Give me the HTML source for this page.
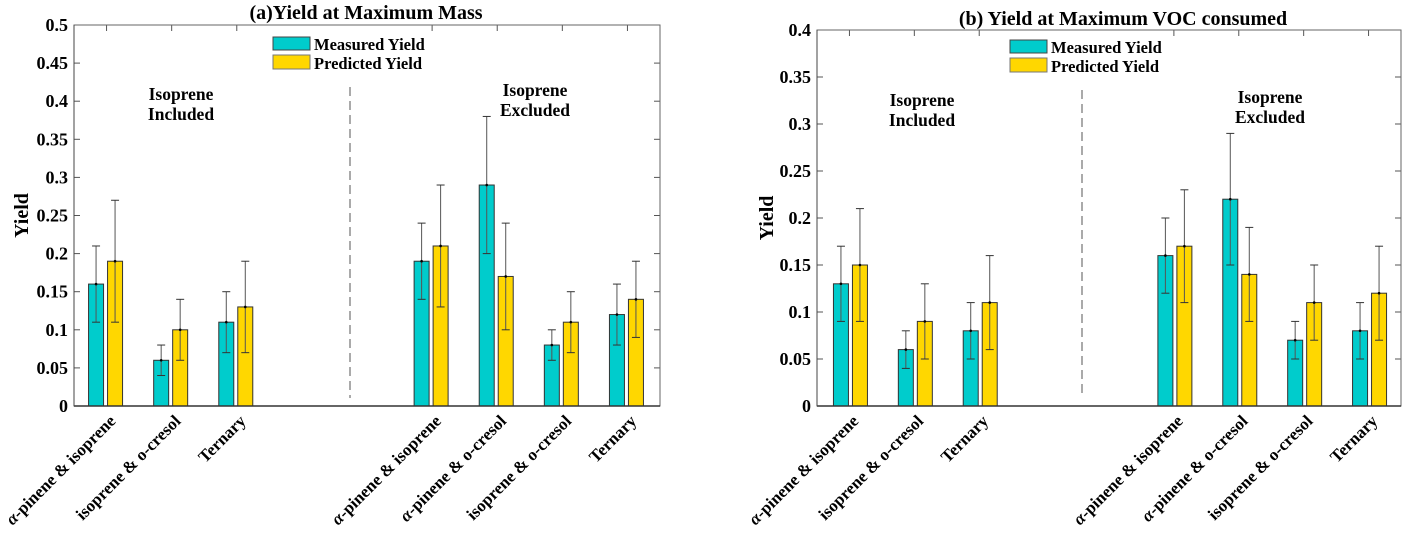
<!DOCTYPE html>
<html><head><meta charset="utf-8"><style>
html,body{margin:0;padding:0;background:#fff;}
svg{display:block;font-family:"Liberation Serif",serif;font-weight:bold;}
</style></head><body>
<svg id="chart" width="1408" height="536" viewBox="0 0 1408 536" xmlns="http://www.w3.org/2000/svg"></svg>
<script>
const categories = ["α-pinene & isoprene","isoprene & o-cresol","Ternary","α-pinene & isoprene","α-pinene & o-cresol","isoprene & o-cresol","Ternary"];
const slots = [1,2,3,6,7,8,9];
// Panel A
const measuredA = [0.16,0.06,0.11,0.19,0.29,0.08,0.12];
const measuredALow = [0.11,0.04,0.07,0.14,0.20,0.06,0.08];
const measuredAHigh = [0.21,0.08,0.15,0.24,0.38,0.10,0.16];
const predictedA = [0.19,0.10,0.13,0.21,0.17,0.11,0.14];
const predictedALow = [0.11,0.06,0.07,0.13,0.10,0.07,0.09];
const predictedAHigh = [0.27,0.14,0.19,0.29,0.24,0.15,0.19];
const ticksA = ["0","0.05","0.1","0.15","0.2","0.25","0.3","0.35","0.4","0.45","0.5"];
// Panel B
const measuredB = [0.13,0.06,0.08,0.16,0.22,0.07,0.08];
const measuredBLow = [0.09,0.04,0.05,0.12,0.15,0.05,0.05];
const measuredBHigh = [0.17,0.08,0.11,0.20,0.29,0.09,0.11];
const predictedB = [0.15,0.09,0.11,0.17,0.14,0.11,0.12];
const predictedBLow = [0.09,0.05,0.06,0.11,0.09,0.07,0.07];
const predictedBHigh = [0.21,0.13,0.16,0.23,0.19,0.15,0.17];
const ticksB = ["0","0.05","0.1","0.15","0.2","0.25","0.3","0.35","0.4"];

const svg = document.getElementById('chart');
const NS = 'http://www.w3.org/2000/svg';
function mk(tag, attrs, parent){const e=document.createElementNS(NS,tag);for(const k in attrs)e.setAttribute(k,attrs[k]);(parent||svg).appendChild(e);return e;}

function panel(cfg){
  const g = mk('g',{});
  
  
  const xS = v => cfg.x0 + (v-0.5)/9*(cfg.x1-cfg.x0);
  const yS = v => cfg.y1 - v/cfg.ymax*(cfg.y1-cfg.y0);
  const t = mk('text',{x:cfg.titleX,y:cfg.titleY,'text-anchor':'middle','font-size':20},g);
  t.textContent = cfg.title;
  
  
  cfg.ticks.forEach(lbl=>{
    const v=parseFloat(lbl), y=yS(v);
    mk('line',{x1:cfg.x0,x2:cfg.x0+6,y1:y,y2:y,stroke:'#555','stroke-width':1},g);
    mk('line',{x1:cfg.x1,x2:cfg.x1-6,y1:y,y2:y,stroke:'#555','stroke-width':1},g);
    const tx=mk('text',{x:cfg.x0-6,y:y+6,'text-anchor':'end','font-size':18},g);
    tx.textContent=lbl;
    
    
  });
  slots.forEach(s=>{
    mk('line',{x1:xS(s),x2:xS(s),y1:cfg.y0,y2:cfg.y0+6,stroke:'#555','stroke-width':1},g);
  });
  const yl=mk('text',{x:0,y:0,'text-anchor':'middle','font-size':20,transform:`translate(${cfg.yLabelX},${(cfg.y0+cfg.y1)/2}) rotate(-90)`},g);
  yl.textContent='Yield';
  
  
  function series(vals, lo, hi, off, color, nm){
    vals.forEach((v,i)=>{
      const cx=xS(slots[i]);
      const r=mk('rect',{x:cx+off,y:yS(v),width:15,height:yS(0)-yS(v),fill:color,stroke:'#333','stroke-width':1},g);
      
      
      const ex=cx+off+7.5;
      const e=mk('line',{x1:ex,x2:ex,y1:yS(lo[i]),y2:yS(hi[i]),stroke:'#555','stroke-width':1},g);
      
      
      mk('line',{x1:ex-4,x2:ex+4,y1:yS(lo[i]),y2:yS(lo[i]),stroke:'#333','stroke-width':1},g);
      mk('line',{x1:ex-4,x2:ex+4,y1:yS(hi[i]),y2:yS(hi[i]),stroke:'#333','stroke-width':1},g);
      mk('circle',{cx:ex,cy:yS(v),r:1.3,fill:'#000'},g);
    });
  }
  series(cfg.m,cfg.mlo,cfg.mhi,cfg.offM,'#00CCCC','measured');
  series(cfg.p,cfg.plo,cfg.phi,cfg.offP,'#FFD700','predicted');
  mk('rect',{x:cfg.x0,y:cfg.y0,width:cfg.x1-cfg.x0,height:cfg.y1-cfg.y0,fill:'none',stroke:'#666','stroke-width':1},g);
  mk('line',{x1:cfg.x0,x2:cfg.x1,y1:cfg.y1,y2:cfg.y1,stroke:'#333','stroke-width':1.5},g);
  mk('line',{x1:cfg.x0,x2:cfg.x0,y1:cfg.y0,y2:cfg.y1,stroke:'#444','stroke-width':1},g);
  const d=mk('line',{x1:cfg.dashX,x2:cfg.dashX,y1:cfg.dashY0,y2:cfg.dashY1,stroke:'#555','stroke-width':1,'stroke-dasharray':'9,5'},g);
  
  
  const lg=mk('g',{},g);
  
  
  mk('rect',{x:cfg.legX,y:cfg.legY,width:37,height:13,fill:'#00CCCC',stroke:'#444'},lg);
  mk('rect',{x:cfg.legX,y:cfg.legY+18,width:37,height:14,fill:'#FFD700',stroke:'#777'},lg);
  const l1=mk('text',{x:cfg.legX+41,y:cfg.legY+13,'font-size':16.5},lg); l1.textContent='Measured Yield';
  
  
  const l2=mk('text',{x:cfg.legX+41,y:cfg.legY+32,'font-size':16.5,'xml:space':'preserve'},lg); l2.textContent=cfg.predLabel;
  
  
  [[cfg.incX,cfg.incY,'Isoprene','Included'],[cfg.excX,cfg.excY,'Isoprene','Excluded']].forEach(a=>{
    const t1=mk('text',{x:a[0],y:a[1],'text-anchor':'middle','font-size':17.5},g); t1.textContent=a[2];
    const t2=mk('text',{x:a[0],y:a[1]+20,'text-anchor':'middle','font-size':17.5},g); t2.textContent=a[3];
    
    
    
    
  });
  categories.forEach((c,i)=>{
    const x=xS(slots[i])+10, y=cfg.y1+16;
    const tx=mk('text',{x:0,y:0,'text-anchor':'end','font-size':17,transform:`translate(${x},${y}) rotate(-45)`},g);
    if(c.startsWith('α')){
      const s1=mk('tspan',{'font-style':'italic'},tx); s1.textContent='α';
      const s2=mk('tspan',{},tx); s2.textContent=c.slice(1);
    } else tx.textContent=c;
    
    
  });
}

panel({name:'panel-a-max-mass',title:'(a)Yield at Maximum Mass',titleX:366,titleY:19,x0:74,x1:660,y0:25,y1:406,ymax:0.5,ticks:ticksA,
  m:measuredA,mlo:measuredALow,mhi:measuredAHigh,p:predictedA,plo:predictedALow,phi:predictedAHigh,offM:-18,offP:1,
  yLabelX:28,dashX:350,dashY0:87,dashY1:398,legX:273,legY:37,predLabel:'Predicted  Yield',incX:181,incY:100,excX:535,excY:96});
panel({name:'panel-b-max-voc',title:'(b) Yield at Maximum VOC consumed',titleX:1123,titleY:25,x0:817,x1:1401,y0:30,y1:406,ymax:0.4,ticks:ticksB,
  m:measuredB,mlo:measuredBLow,mhi:measuredBHigh,p:predictedB,plo:predictedBLow,phi:predictedBHigh,offM:-16,offP:3,
  yLabelX:773,dashX:1082,dashY0:90,dashY1:398,legX:1010,legY:40,predLabel:'Predicted Yield',incX:922,incY:106,excX:1270,excY:103});
</script>
</body></html>
